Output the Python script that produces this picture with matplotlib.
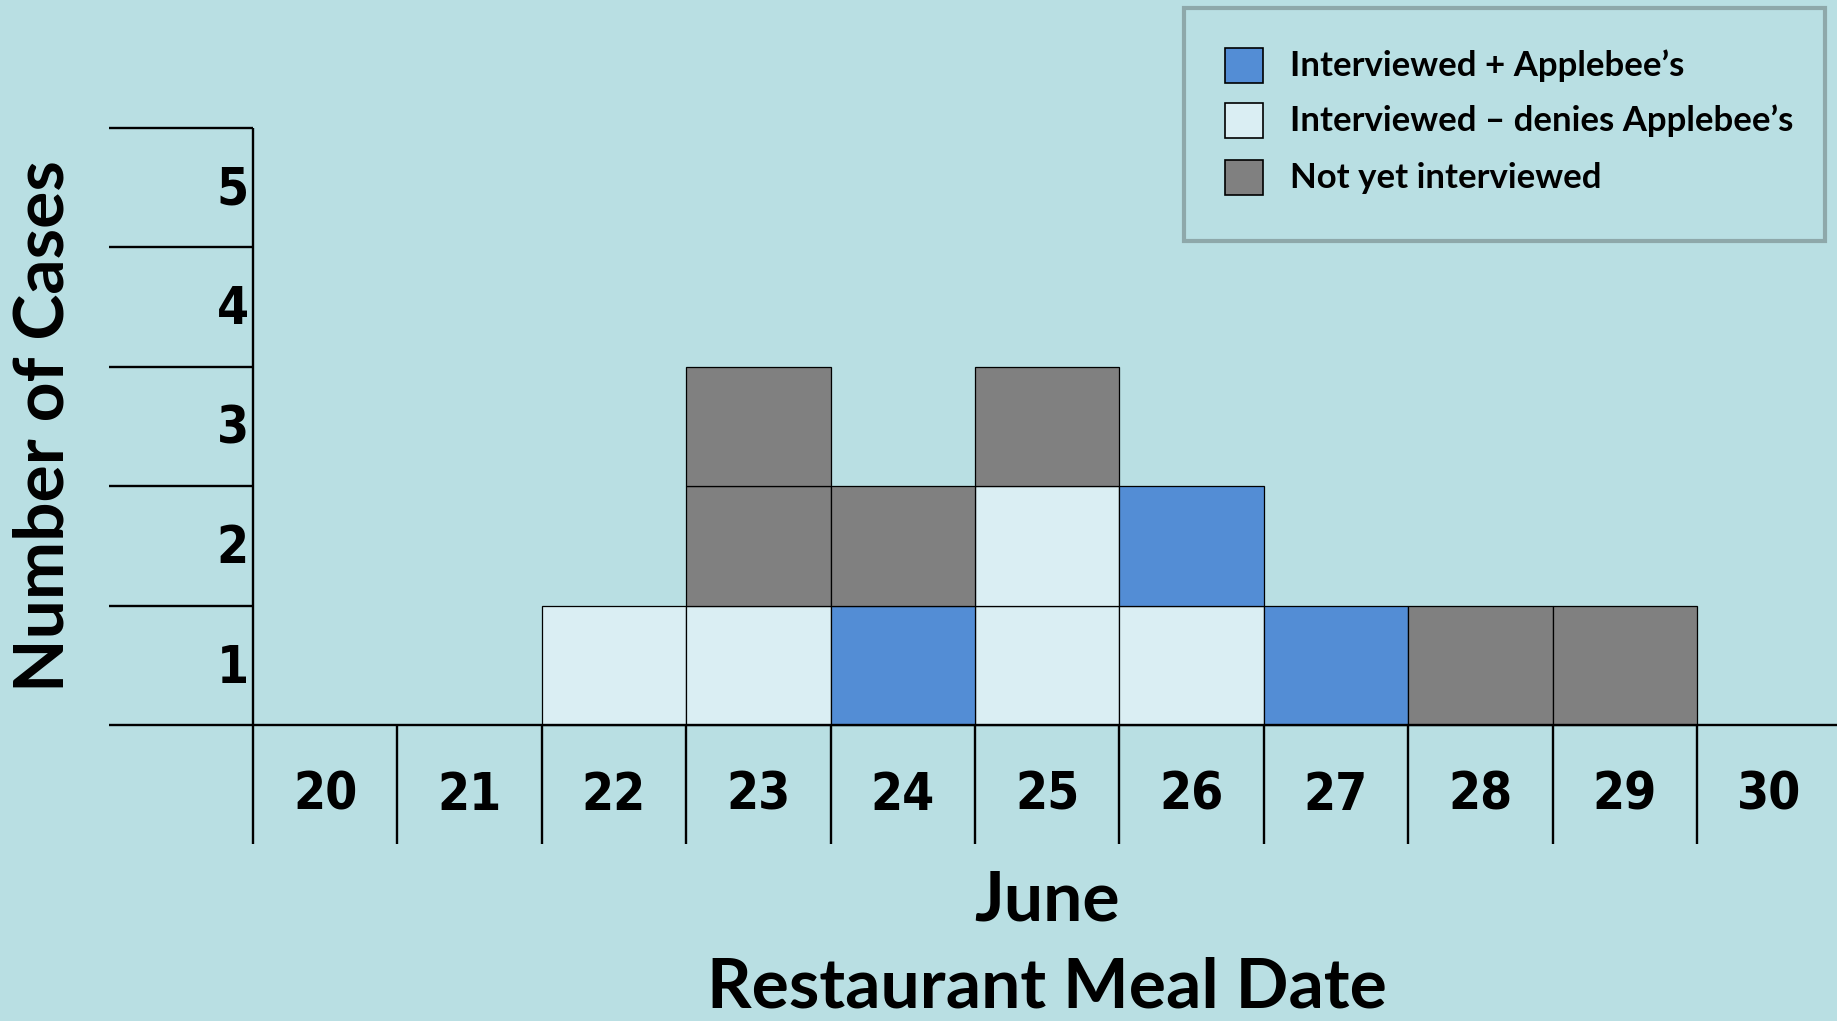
import numpy as np
import matplotlib.pyplot as plt
from matplotlib.patches import Rectangle

# cases per restaurant meal date (June)
days = [20, 21, 22, 23, 24, 25, 26, 27, 28, 29, 30]
denies = [0, 0, 1, 1, 0, 2, 1, 0, 0, 0, 0]      # Interviewed - denies Applebee's
applebees = [0, 0, 0, 0, 1, 0, 1, 1, 0, 0, 0]   # Interviewed + Applebee's
not_yet = [0, 0, 0, 2, 1, 1, 0, 0, 1, 1, 0]     # Not yet interviewed
y_ticks = [1, 2, 3, 4, 5]
legend_labels = ["Interviewed + Applebee\u2019s",
                 "Interviewed \u2013 denies Applebee\u2019s",
                 "Not yet interviewed"]

BG = "#B9DFE3"
BLUE = "#538DD5"
LIGHT = "#DAEEF3"
GRAY = "#808080"
W, H = 1837, 1021

fig = plt.figure(figsize=(W / 100, H / 100), dpi=100)
fig.patch.set_facecolor(BG)
ax = fig.add_axes([0, 0, 1, 1])
ax.set_facecolor(BG)
ax.set_xlim(17.748, 30.47)
ax.set_ylim(-2.477, 6.067)
ax.axis("off")

# one box per case, stacked light -> blue -> gray
bottom = np.zeros(len(days))
for counts, col in [(denies, LIGHT), (applebees, BLUE), (not_yet, GRAY)]:
    counts = np.array(counts)
    for k in range(counts.max()):
        sel = counts > k
        ax.bar(np.array(days)[sel], 1, width=1, bottom=bottom[sel],
               color=col, edgecolor="black", linewidth=0.9, zorder=2)
        bottom[sel] += 1

# frame lines
lw = 1.7
ax.hlines(y_ticks, 18.5, 19.5, color="black", lw=lw, zorder=3)
ax.hlines(0, 18.5, 31, color="black", lw=lw, zorder=3)
ax.vlines(19.5, -1, max(y_ticks), color="black", lw=lw, zorder=3)
ax.vlines(np.array(days) + 0.5, -1, 0, color="black", lw=lw, zorder=3)

num_font = dict(family="DejaVu Sans", fontweight="bold", fontstretch="condensed")
for t in y_ticks:
    ax.text(19.47, t - 0.53, str(t), ha="right", va="center", fontsize=37, **num_font)
for d in days:
    ax.text(d, -0.59, str(d), ha="center", va="center", fontsize=37, **num_font)

title_font = dict(family="Lato", fontweight="bold", fontsize=50)
ax.text(25, -1.64, "June", ha="center", va="baseline", **title_font)
ax.text(25, -2.36, "Restaurant Meal Date", ha="center", va="baseline", **title_font)
ax.text(18.05, 2.5, "Number of Cases", ha="center", va="center", rotation=90, **title_font)

# legend box
def fx(px):
    return px / W

def fy(py):
    return 1 - py / H

fig.add_artist(Rectangle((fx(1184), fy(241)), fx(1825) - fx(1184), fy(8) - fy(241),
                         transform=fig.transFigure, facecolor="none",
                         edgecolor="#8EA8AA", lw=3))
for lab, col, yc in zip(legend_labels, [BLUE, LIGHT, GRAY], [66, 121, 178]):
    fig.add_artist(Rectangle((fx(1225), fy(yc + 17)), fx(38), 35 / H,
                             transform=fig.transFigure, facecolor=col,
                             edgecolor="black", lw=1.2))
    fig.text(fx(1290), fy(yc), lab, ha="left", va="center",
             family="Lato", fontweight="bold", fontsize=25)

fig.savefig("out.png", dpi=100, facecolor=BG)
